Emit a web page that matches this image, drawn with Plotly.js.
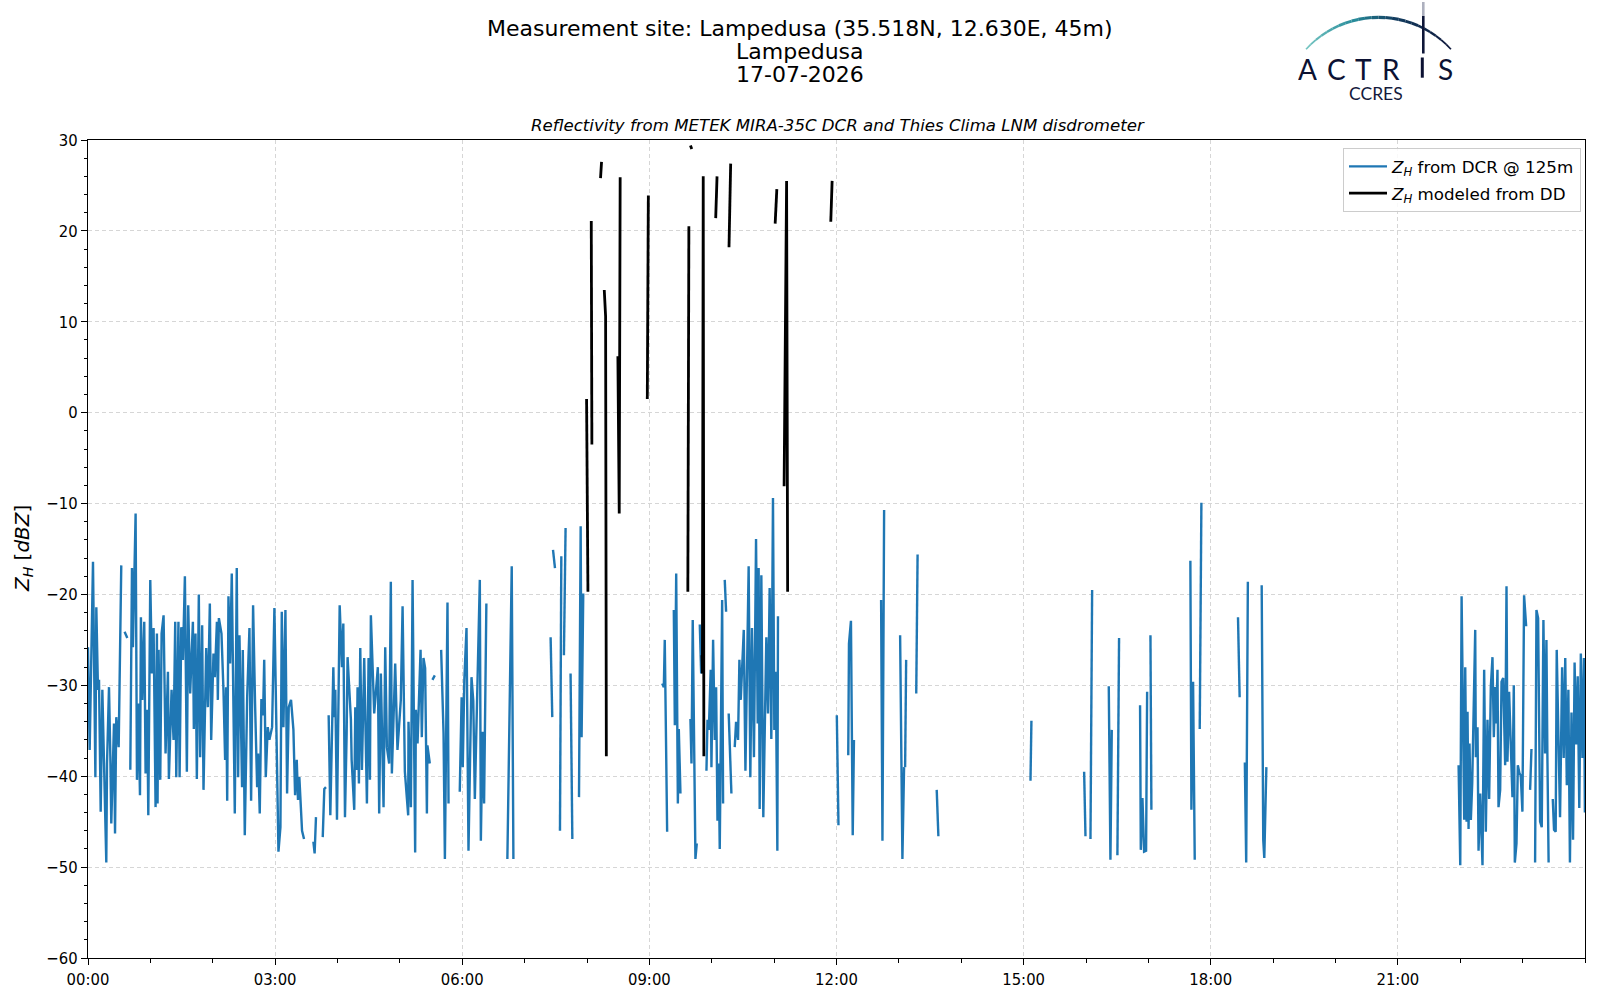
<!DOCTYPE html>
<html>
<head>
<meta charset="utf-8">
<script src="https://cdn.plot.ly/plotly-3.0.1.min.js"></script>
<style>html,body{margin:0;padding:0;background:#fff;}#chart{width:1600px;height:1000px;}</style>
</head>
<body>
<div id="chart"></div>
<script>
// ---- data (minutes after 00:00 UTC, dBZ); null = gap ----
const dcrEarly = [
[0.0,-25.8],[1.6,-37.1],[4.8,-16.4],[7.1,-40.1],[8.0,-21.4],[9.6,-30.5],[10.6,-29.4],[12.2,-43.9],[13.8,-30.5],[17.6,-49.5],[18.3,-38.6],[20.2,-30.2],[21.5,-37.9],[22.4,-45.2],[25.0,-34.2],[26.0,-46.3],[27.2,-33.5],[29.5,-36.8],[32.0,-16.8],
null,
[35.2,-24.1],[37.8,-24.8],
null,
[40.7,-39.3],[42.3,-17.1],[43.2,-25.8],[45.8,-11.1],[47.1,-40.4],[48.4,-32.0],[50.0,-42.1],[50.9,-22.5],[52.2,-31.6],[54.1,-23.0],[55.4,-39.7],[57.0,-32.7],[58.0,-44.3],[59.9,-18.4],[61.5,-28.7],[63.1,-23.7],[65.0,-43.4],[66.3,-24.3],[66.9,-43.0],[67.9,-26.1],[69.5,-40.4],[70.8,-24.3],[72.7,-22.3],[74.6,-37.5],[76.9,-28.5],[77.8,-40.3],[80.4,-30.5],[82.3,-36.0],[83.9,-23.0],[84.9,-40.1],[87.0,-23.0],[88.1,-40.1],[89.7,-23.6],[91.3,-27.2],[93.2,-18.0],[95.1,-39.5],[96.4,-21.2],[98.3,-30.9],[100.9,-23.0],[101.8,-34.8],[103.4,-24.3],[104.7,-40.3],[106.6,-20.0],[107.9,-37.9],[109.8,-23.4],[111.1,-41.5],[113.7,-25.9],[115.3,-32.4],[117.2,-21.0],[118.5,-36.0],[120.7,-26.5],[122.0,-29.1],[124.0,-23.0],[124.9,-31.6],[125.9,-22.6],[128.4,-24.3],[130.3,-30.5],[131.9,-38.2],[132.9,-30.2],[133.9,-42.7],[135.1,-20.2],[136.7,-27.6],[138.3,-17.7],[139.9,-32.0],[141.2,-44.1],[143.1,-17.1],[144.4,-40.1],[145.7,-24.5],[148.2,-41.2],[148.9,-26.1],[150.8,-46.5],[153.1,-31.3],[155.3,-23.7],[156.9,-42.7],[158.8,-21.2],[160.7,-32.0],[162.7,-41.2],[163.6,-37.5],[165.2,-44.1],[166.8,-31.5],[168.4,-33.3],[169.5,-27.2],[171.0,-40.1],[172.9,-34.6],[174.5,-36.0],[177.1,-34.6],[179.3,-21.5],[183.2,-48.3],[185.1,-45.6],[186.4,-21.9],[188.0,-34.6],[189.9,-21.7],[191.5,-41.9],[193.1,-32.4],[195.3,-31.6],[197.6,-34.9],[199.2,-42.1],[200.8,-38.2],[202.0,-42.6],[203.3,-40.1],[204.3,-43.0],[205.9,-46.0],[207.8,-46.9],
null,
[216.8,-47.2],[218.0,-48.5],[219.3,-44.5],
null,
[225.8,-46.7],[227.3,-41.4],[228.9,-41.2],
null,
[231.5,-33.3],[233.1,-44.3],[236.0,-28.0],[236.9,-33.5],[237.9,-30.5],[239.5,-44.8],[242.1,-21.2],[244.3,-28.0],[245.6,-23.2],[247.2,-44.5],[248.8,-35.3],[249.7,-26.9],[252.9,-33.8],[253.6,-38.2],[256.1,-43.7],[257.1,-32.4],[258.4,-39.3],[259.3,-30.2],[260.6,-40.8],[261.9,-25.9],[263.5,-39.3],[265.7,-27.0],[268.3,-43.0],[269.9,-27.0],[271.2,-40.4],[272.1,-22.3],[275.3,-33.1],[278.8,-28.0],[280.1,-44.1],[281.7,-28.7],[284.3,-43.4],[285.9,-25.8],[287.5,-36.8],[289.7,-38.6],[291.3,-18.6],[292.3,-39.7],[295.5,-27.6],[297.7,-37.1],[300.9,-31.6],[302.6,-21.3],[304.8,-39.5],[308.0,-44.3],[308.3,-34.0],[310.6,-43.4],[312.2,-18.4],[314.7,-48.4],[315.4,-32.7],[317.0,-36.4],[319.9,-26.1],[321.1,-35.7],[322.7,-27.0],[324.3,-28.1],[326.0,-44.1],[326.5,-36.6],[328.8,-38.6],
null,
[331.3,-29.4],[333.6,-28.9],
null,
[339.7,-26.1],[342.0,-35.3],[343.3,-49.1],[345.8,-20.9],[346.8,-43.0],
null,
[357.6,-41.7],[359.4,-31.3],[360.5,-39.0],[362.0,-29.4],[364.1,-23.7],[366.0,-48.2],[368.9,-29.1],[370.6,-31.7],[372.1,-42.5],[376.9,-18.4],[377.9,-47.1],[379.5,-35.1],[381.0,-43.0],[383.2,-21.0],
null
];

const dcrMidday = [
[403.4,-49.1],[407.6,-16.9],[409.2,-49.1],
null,
[445.0,-24.7],[446.6,-33.5],
null,
[447.3,-15.1],[449.2,-17.1],
null,
[454.0,-46.0],[455.3,-15.8],
null,
[457.8,-26.7],[459.4,-12.7],
null,
[464.2,-28.7],[465.9,-46.9],
null,
[472.3,-42.3],[473.9,-12.5],[474.8,-35.7],[476.4,-19.9],
null,
[552.3,-29.8],[553.9,-30.2],[554.8,-25.0],[557.1,-46.1],
null,
[563.5,-21.7],[564.5,-34.4],[565.8,-17.7],[567.4,-43.0],[568.3,-34.8],[569.9,-41.9],
null,
[579.5,-33.7],[580.5,-38.6],[581.7,-22.8],[584.3,-49.1],[585.6,-47.4],
null,
[588.5,-23.3],[589.8,-28.7],
null,
[594.9,-39.4],[595.9,-33.8],[597.2,-34.9],[599.0,-28.3],[599.7,-39.0],[601.3,-25.0],[602.9,-36.0],[604.2,-30.2],[605.5,-44.9],[606.7,-38.6],[607.7,-48.0],[608.7,-34.9],[610.0,-20.6],[610.9,-43.0],
null,
[612.5,-18.4],[613.8,-21.9],
null,
[616.3,-33.1],[618.9,-41.9],
null,
[622.1,-36.8],[623.4,-34.0],[625.3,-36.0],[626.6,-27.2],[627.9,-31.6],[630.8,-23.9],[632.4,-39.4],[634.0,-29.4],[635.5,-16.9],[637.1,-40.1],[638.7,-23.7],[640.6,-37.9],[642.6,-13.9],[644.2,-34.2],[645.1,-17.1],[646.1,-43.6],[647.7,-17.9],[649.6,-44.5],[650.9,-33.1],[652.5,-24.7],[654.1,-33.1],[655.7,-19.3],[657.3,-35.9],[658.9,-9.4],[660.2,-34.9],[661.2,-28.5],[662.1,-34.9],[663.1,-48.2],[663.7,-22.4],
null,
[720.3,-33.3],[721.9,-45.4],
null
];

const dcrLate = [
[731.3,-37.7],[732.0,-25.4],[733.9,-22.9],[735.6,-46.5],[736.8,-36.0],
null,
[762.9,-20.6],[764.2,-47.1],[765.8,-10.7],
null,
[781.2,-24.5],[783.4,-49.1],[785.0,-39.0],
null,
[786.0,-39.0],[787.0,-27.2],
null,
[796.7,-30.9],[798.0,-15.6],
null,
[816.4,-41.5],[818.0,-46.6],
null,
[906.6,-40.5],[907.5,-33.9],
null,
[958.2,-39.5],[959.5,-46.6],
null,
[964.3,-46.9],[965.9,-19.5],
null,
[981.9,-30.1],[983.5,-49.2],[984.8,-34.9],
null,
[990.2,-48.7],[991.8,-24.8],
null,
[1012.0,-32.2],[1012.7,-48.1],[1014.3,-42.4],[1015.9,-48.3],[1017.8,-48.2],[1018.8,-30.7],
null,
[1022.0,-24.5],[1022.9,-43.7],
null,
[1060.4,-16.3],[1061.4,-43.7],[1063.0,-29.6],[1064.6,-49.2],
null,
[1069.4,-34.8],[1071.0,-9.9],
null,
[1106.2,-22.5],[1107.8,-31.3],
null,
[1112.8,-38.5],[1114.1,-49.5],[1115.7,-18.6],
null,
[1129.0,-19.0],[1130.5,-47.0],[1131.5,-49.0],[1133.5,-39.0],
null
];

const dcrNight = [
[1318.4,-38.8],[1320.0,-49.8],[1321.3,-20.2],[1322.9,-38.2],[1323.8,-44.8],[1324.8,-28.0],[1326.1,-45.0],[1327.0,-32.9],[1328.0,-45.8],[1328.9,-36.4],[1330.2,-44.8],[1331.5,-40.8],[1333.4,-31.6],[1334.4,-23.9],[1335.0,-37.9],[1336.6,-34.6],[1337.6,-48.2],[1339.2,-41.9],[1341.4,-49.8],[1343.0,-28.3],[1344.6,-46.1],[1346.2,-33.8],[1347.8,-42.5],[1349.4,-30.2],[1351.0,-26.9],[1352.3,-35.7],[1353.6,-30.2],[1354.5,-34.2],[1355.8,-28.3],[1356.8,-43.4],[1358.4,-41.5],[1359.7,-29.6],[1361.3,-29.2],[1362.2,-36.2],[1363.2,-38.8],[1364.5,-19.1],[1365.4,-38.4],[1367.0,-30.7],[1368.6,-36.8],[1370.2,-42.3],[1371.5,-30.0],[1372.5,-49.5],[1374.1,-47.4],[1375.4,-38.8],[1377.0,-39.7],[1378.2,-39.9],[1379.8,-43.9],[1381.4,-20.1],[1383.4,-23.5],
null,
[1387.2,-41.5],[1388.5,-37.0],
null,
[1392.0,-49.5],[1393.3,-21.7],[1394.9,-22.6],[1396.8,-45.0],[1398.4,-45.6],[1400.0,-22.8],[1401.6,-37.5],[1402.9,-25.0],[1403.8,-37.5],[1405.0,-49.5],
null,
[1409.0,-42.5],[1410.2,-45.9],[1411.8,-46.1],[1412.8,-26.1],[1414.5,-36.0],[1416.0,-44.5],[1418.0,-28.0],[1419.5,-38.0],[1421.0,-27.0],[1422.5,-41.0],[1424.0,-30.5],[1425.5,-49.5],[1427.0,-33.0],[1428.5,-47.0],[1430.0,-27.5],[1431.5,-36.5],[1433.0,-29.0],[1434.5,-43.5],[1436.0,-26.5],[1437.5,-38.0],[1439.0,-27.0],[1439.9,-44.0]
];

const ddModel = [
[479.6,1.5],[480.9,-19.7],
null,
[484.1,21.1],[484.7,-3.5],
null,
[493.0,25.8],[494.0,27.6],
null,
[496.6,13.5],[497.9,10.6],[498.6,-37.8],
null,
[509.7,6.2],[511.0,-11.1],[511.9,25.9],
null,
[538.0,1.5],[539.0,23.9],
null,
[577.0,-19.7],[578.0,20.5],
null,
[579.5,29.4],[580.8,29.0],
null,
[590.6,-26.7],[591.0,-28.7],[591.8,26.0],[592.4,-37.8],
null,
[603.8,21.4],[605.1,26.0],
null,
[616.6,18.2],[618.2,27.4],
null,
[661.0,20.8],[662.6,24.6],
null,
[669.6,-8.1],[672.0,25.5],[673.0,-19.7],
null,
[714.5,21.0],[715.8,25.5]
];

const tickHours = [0, 3, 6, 9, 12, 15, 18, 21];
const tickLabels = ['00:00','03:00','06:00','09:00','12:00','15:00','18:00','21:00'];
const titleLines = ['Measurement site: Lampedusa (35.518N, 12.630E, 45m)', 'Lampedusa', '17-07-2026'];
const subTitle = 'Reflectivity from METEK MIRA-35C DCR and Thies Clima LNM disdrometer';

// ---- helpers ----
function pad(n){ return (n < 10 ? '0' : '') + n; }
function minToDate(m){
  const s = Math.round(m * 60);
  const day = 17 + Math.floor(s / 86400);
  const r = s % 86400;
  return '2026-07-' + pad(day) + ' ' + pad(Math.floor(r/3600)) + ':' + pad(Math.floor((r%3600)/60)) + ':' + pad(r%60);
}
function toXY(points){
  const x = [], y = [];
  points.forEach(p => {
    if (p === null) { x.push(null); y.push(null); }
    else { x.push(minToDate(p[0])); y.push(p[1]); }
  });
  return {x, y};
}
const dcr = toXY([].concat(dcrEarly, dcrMidday, dcrLate, dcrNight));
const dd = toXY(ddModel);

const FONT_C = "'DejaVu Sans Condensed', 'DejaVu Sans', sans-serif";
const FONT = "'DejaVu Sans', sans-serif";
const M = {l: 88, r: 15, t: 140, b: 42};
const PW = 1600 - M.l - M.r, PH = 1000 - M.t - M.b;
const px = v => (v - M.l) / PW;
const py = v => (1000 - M.b - v) / PH;

const traces = [
  {x: dcr.x, y: dcr.y, type: 'scatter', mode: 'lines', connectgaps: false,
   name: '<i>Z<sub>H</sub></i> from DCR @ 125m', legendgroup: 'a',
   line: {color: '#1f77b4', width: 2.4}},
  {x: dd.x, y: dd.y, type: 'scatter', mode: 'lines', connectgaps: false,
   name: '<i>Z<sub>H</sub></i> modeled from DD', legendgroup: 'b',
   line: {color: '#000000', width: 2.8}}
];

// logo arc
const shapes = [];
const cx = 1378.5, cy = 115.4, R = 98.1;
const a0 = 137.6, a1 = 42.4, N = 24;
const stops = [[0, [120,200,195]], [0.35, [40,140,155]], [0.6, [18,60,95]], [1, [14,22,58]]];
function colAt(f){
  for (let i = 0; i < stops.length - 1; i++) {
    const [f0, c0] = stops[i], [f1, c1] = stops[i+1];
    if (f >= f0 && f <= f1) {
      const k = (f - f0) / (f1 - f0);
      return 'rgb(' + c0.map((c, j) => Math.round(c + (c1[j] - c) * k)).join(',') + ')';
    }
  }
  return 'rgb(14,22,58)';
}
for (let i = 0; i < N; i++) {
  const aa = (a0 + (a1 - a0) * i / N) * Math.PI / 180;
  const ab = (a0 + (a1 - a0) * (i + 1) / N) * Math.PI / 180;
  const f = (i + 0.5) / N;
  shapes.push({type: 'line', xref: 'paper', yref: 'paper',
    x0: px(cx + R * Math.cos(aa)), y0: py(cy - R * Math.sin(aa)),
    x1: px(cx + R * Math.cos(ab)), y1: py(cy - R * Math.sin(ab)),
    line: {color: colAt(f), width: 1.6 + 1.6 * Math.sin(Math.PI * f)}});
}
shapes.push({type: 'line', xref: 'paper', yref: 'paper', x0: px(1423.3), x1: px(1423.3), y0: py(2), y1: py(16),
  line: {color: 'rgba(20,28,70,0.35)', width: 2.6}});
shapes.push({type: 'line', xref: 'paper', yref: 'paper', x0: px(1423.3), x1: px(1423.3), y0: py(16), y1: py(53.5),
  line: {color: '#0e1638', width: 2.6}});

const annotations = [];
[[28.6, 0], [51.2, 1], [74.5, 2]].forEach(([yy, i]) => {
  annotations.push({text: titleLines[i], xref: 'paper', yref: 'paper', x: px(800), y: py(yy),
    xanchor: 'center', yanchor: 'middle', showarrow: false, font: {family: FONT, size: 22, color: '#000'}});
});
annotations.push({text: '<i>' + subTitle + '</i>', xref: 'paper', yref: 'paper', x: px(838), y: py(126),
  xanchor: 'center', yanchor: 'middle', showarrow: false, font: {family: FONT, size: 16.6, color: '#000'}});
annotations.push({text: '<i>Z<sub>H</sub></i> [<i>dBZ</i>]', xref: 'paper', yref: 'paper', x: px(23), y: 0.5,
  xanchor: 'center', yanchor: 'middle', textangle: -90, showarrow: false, font: {family: FONT, size: 20, color: '#000'}});
// logo letters
[['A', 1307.5], ['C', 1336.7], ['T', 1363.3], ['R', 1390.8], ['S', 1445.8]].forEach(([ch, xx]) => {
  annotations.push({text: ch, xref: 'paper', yref: 'paper', x: px(xx), y: py(68.5),
    xanchor: 'center', yanchor: 'middle', height: 28, valign: 'middle', showarrow: false,
    font: {family: 'Lato', size: 28, color: '#0c1233'}});
});
shapes.push({type: 'line', xref: 'paper', yref: 'paper', x0: px(1422.3), x1: px(1422.3), y0: py(57.5), y1: py(77.7),
  line: {color: '#0c1233', width: 3}});
annotations.push({text: 'CCRES', xref: 'paper', yref: 'paper', x: px(1376.3), y: py(93),
  xanchor: 'center', yanchor: 'middle', height: 17, showarrow: false, font: {family: 'Lato', size: 17.5, color: '#141a3c'}});

const axCommon = {
  showline: true, linecolor: '#000', linewidth: 1, mirror: true,
  ticks: 'outside', ticklen: 6, tickwidth: 1, tickcolor: '#000',
  showgrid: true, gridcolor: '#d6d6d6', griddash: '4px,3px', gridwidth: 1,
  zeroline: false, tickfont: {family: FONT_C, size: 16.5, color: '#000'}
};

const layout = {
  width: 1600, height: 1000,
  margin: M,
  paper_bgcolor: '#fff', plot_bgcolor: '#fff',
  showlegend: true,
  legend: {x: px(1581), y: py(148), xanchor: 'right', yanchor: 'top',
    bgcolor: 'rgba(255,255,255,0.85)', bordercolor: '#cccccc', borderwidth: 1,
    itemwidth: 38,
    font: {family: FONT, size: 16.7, color: '#000'}, traceorder: 'grouped', tracegroupgap: 2},
  xaxis: Object.assign({}, axCommon, {
    type: 'date',
    range: ['2026-07-17 00:00:00', '2026-07-18 00:00:00'],
    tickmode: 'array',
    tickvals: tickHours.map(h => minToDate(h * 60)),
    ticktext: tickLabels,
    minor: {tickmode: 'linear', tick0: '2026-07-17 00:00:00', dtick: 3600000, ticks: 'outside', ticklen: 3.5, tickcolor: '#000', showgrid: false}
  }),
  yaxis: Object.assign({}, axCommon, {
    range: [-60, 30], tickmode: 'linear', tick0: 0, dtick: 10,
    minor: {tickmode: 'linear', tick0: 0, dtick: 2, ticks: 'outside', ticklen: 3.5, tickcolor: '#000', showgrid: false}
  }),
  shapes: shapes,
  annotations: annotations
};

Plotly.newPlot('chart', traces, layout, {displayModeBar: false, staticPlot: true});
</script>
</body>
</html>
